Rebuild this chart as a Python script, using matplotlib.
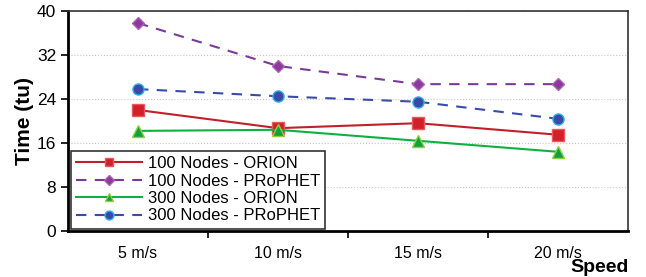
import numpy as np
import matplotlib
matplotlib.use("Agg")
import matplotlib.pyplot as plt

speeds = ["5 m/s", "10 m/s", "15 m/s", "20 m/s"]
orion_100 = [22.0, 18.7, 19.6, 17.5]
prophet_100 = [37.8, 30.0, 26.7, 26.7]
orion_300 = [18.2, 18.4, 16.4, 14.4]
prophet_300 = [25.8, 24.5, 23.5, 20.4]

plt.rcParams["font.family"] = ["Liberation Sans", "DejaVu Sans"]

fig = plt.figure(figsize=(6.46, 2.77), dpi=100)
ax = fig.add_axes([68 / 646, 46 / 277, 560 / 646, 220 / 277])

x = np.arange(len(speeds))

ax.plot(x, orion_100, "-", color="#c0202a", lw=1.5, marker="s", ms=8,
        mfc="#d0202a", mec="#e85a5a", label="100 Nodes - ORION")
ax.plot(x, prophet_100, "--", color="#7a3a9a", lw=1.5, dashes=(5, 4), marker="D", ms=6.5,
        mfc="#8a3a9a", mec="#b060b8", label="100 Nodes - PRoPHET")
ax.plot(x, orion_300, "-", color="#10b040", lw=1.5, marker="^", ms=8,
        mfc="#10a040", mec="#90d040", label="300 Nodes - ORION")
ax.plot(x, prophet_300, "--", color="#3a4aa8", lw=1.5, dashes=(5, 4), marker="o", ms=8,
        mfc="#3a4aa8", mec="#30b0e8", label="300 Nodes - PRoPHET")

ax.set_xlim(-0.5, 3.5)
ax.set_ylim(0, 40)
ax.set_yticks([0, 8, 16, 24, 32, 40])
ax.set_xticks(x)
ax.set_xticklabels(speeds, fontsize=11.5)
ax.tick_params(axis="x", length=0, pad=11)
ax.set_xticks(np.arange(0.5, 3.5, 1), minor=True)
ax.tick_params(axis="x", which="minor", length=5, width=1.2, direction="out")
ax.tick_params(axis="y", labelsize=12.5, length=5, width=1.2, direction="out")
ax.grid(axis="y", linestyle=":", color="#c8c8c8", lw=0.8)
ax.set_axisbelow(True)

for s in ["left", "bottom"]:
    ax.spines[s].set_linewidth(2)
    ax.spines[s].set_color("black")
for s in ["top", "right"]:
    ax.spines[s].set_linewidth(1.2)
    ax.spines[s].set_color("#333333")

ax.set_ylabel("Time (tu)", fontsize=15, fontweight="bold", labelpad=2)
fig.text(0.973, 0.005, "Speed", fontsize=14, fontweight="bold", ha="right", va="bottom")

leg = ax.legend(loc="lower left", fontsize=12, frameon=True, fancybox=False,
                edgecolor="black", borderpad=0.3, labelspacing=0.15,
                handlelength=4.0, handletextpad=0.35, markerscale=0.8,
                borderaxespad=0.15, bbox_to_anchor=(0.0, 0.0))
leg.get_frame().set_linewidth(1.2)

fig.savefig("out.png", dpi=100)
